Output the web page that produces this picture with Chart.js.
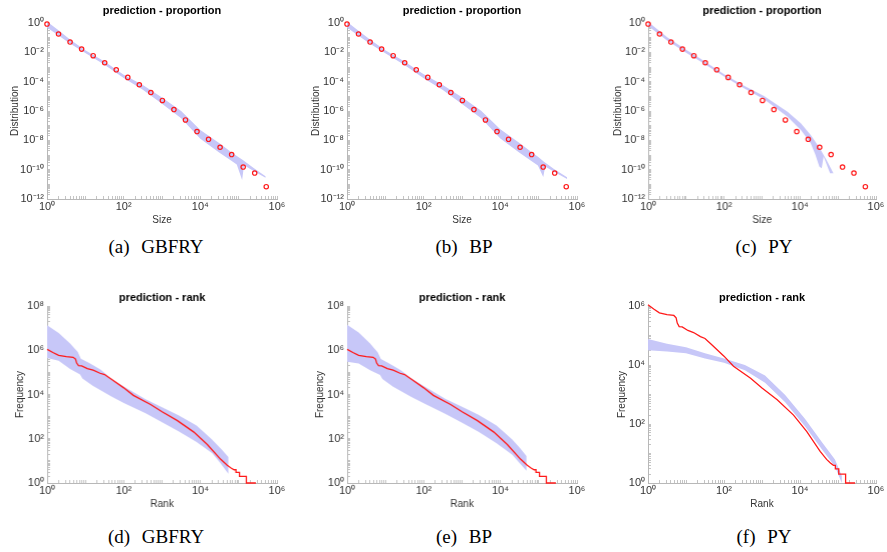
<!DOCTYPE html>
<html>
<head>
<meta charset="utf-8">
<script src="https://cdn.jsdelivr.net/npm/chart.js@4.4.0/dist/chart.umd.min.js"></script>
<style>
  body { margin: 0; background: #fff; width: 887px; height: 552px; position: relative; overflow: hidden; }
  canvas { position: absolute; }
  .cap { position: absolute; font-family: "Liberation Serif", "Times New Roman", serif; font-size: 19px; line-height: 20px;
         color: #000; transform: translateX(-50%); white-space: nowrap; word-spacing: 7px; }
</style>
</head>
<body>
<script>
// Data (log10 units)
const sizes = [1, 2, 4, 8, 16, 32, 64, 128, 256, 512, 1024, 2048, 4096, 8192, 16384, 32768, 65536, 131072, 262144, 524288];
const propLog10 = [-0.07, -0.75, -1.30, -1.78, -2.23, -2.71, -3.19, -3.71, -4.21, -4.74, -5.28, -5.90, -6.61, -7.40, -7.93, -8.47, -8.97, -9.82, -10.23, -11.16];

const rankLog10 = [0, 0.15, 0.3, 0.5, 0.68, 0.74, 0.77, 0.82, 0.9, 1.05, 1.2, 1.38, 1.5, 1.65, 2.0, 2.25, 2.7, 3.0, 3.4, 3.83, 4.18, 4.53, 4.7, 4.8, 4.88, 4.93, 4.93, 5.02, 5.02, 5.2, 5.2, 5.45];
const freqLog10 = [6.04, 5.9, 5.77, 5.71, 5.68, 5.6, 5.42, 5.3, 5.29, 5.17, 5.1, 4.96, 4.9, 4.72, 4.3, 3.96, 3.55, 3.22, 2.82, 2.3, 1.74, 1.07, 0.8, 0.68, 0.6, 0.6, 0.48, 0.48, 0.3, 0.3, 0, 0];

// predictive bands, outline polygons (upper edge then lower edge back)
const bandA_x = [0, 0.3, 0.6, 1.0, 1.5, 2.0, 2.5, 3.0, 3.5, 4.0, 4.5, 4.8, 5.0, 5.1, 5.4, 5.7, 5.7, 5.4, 5.14, 5.09, 4.95, 4.8, 4.5, 4.0, 3.5, 3.0, 2.5, 2.0, 1.5, 1.0, 0.6, 0.3, 0];
const bandA_y = [0.1, -0.5, -1.12, -1.85, -2.62, -3.52, -4.22, -5.08, -6.0, -7.3, -8.2, -8.8, -9.15, -9.33, -9.9, -10.45, -10.55, -10.1, -9.7, -10.7, -9.65, -9.38, -8.85, -7.9, -6.5, -5.5, -4.55, -3.75, -2.85, -2.05, -1.4, -0.85, -0.3];

const bandB_x = [0, 0.3, 0.6, 1.0, 1.5, 2.0, 2.5, 3.0, 3.5, 4.0, 4.5, 4.8, 5.0, 5.13, 5.4, 5.74, 5.74, 5.4, 5.17, 5.12, 4.98, 4.8, 4.5, 4.0, 3.5, 3.0, 2.5, 2.0, 1.5, 1.0, 0.6, 0.3, 0];
const bandB_y = [0.08, -0.52, -1.12, -1.86, -2.62, -3.5, -4.22, -5.06, -5.98, -7.25, -8.18, -8.78, -9.15, -9.45, -9.95, -10.52, -10.64, -10.15, -9.78, -10.5, -9.72, -9.4, -8.85, -7.88, -6.5, -5.52, -4.56, -3.76, -2.86, -2.06, -1.42, -0.87, -0.3];

const bandC_x = [0, 0.5, 1.0, 1.37, 2.0, 2.5, 3.05, 3.67, 4.02, 4.28, 4.5, 4.7, 4.88, 4.79, 4.62, 4.57, 4.51, 4.4, 4.28, 4.02, 3.67, 3.05, 2.5, 2.0, 1.37, 1.0, 0.5, 0];
const bandC_y = [0.08, -0.98, -1.82, -2.42, -3.5, -4.25, -4.98, -6.05, -6.84, -7.63, -8.45, -9.35, -10.25, -10.25, -9.11, -9.91, -9.8, -8.95, -8.2, -7.3, -6.39, -5.2, -4.42, -3.65, -2.6, -2.02, -1.2, -0.2];

const bandD_x = [0, 0.3, 0.6, 0.8, 0.88, 1.1, 1.4, 1.7, 2.0, 2.57, 3.0, 3.44, 3.9, 4.31, 4.55, 4.73, 4.73, 4.5, 4.31, 3.9, 3.44, 3.0, 2.57, 2.0, 1.69, 1.2, 0.92, 0.86, 0.6, 0.3, 0];
const bandD_y = [7.13, 6.78, 6.3, 5.92, 5.62, 5.42, 5.12, 4.68, 4.36, 3.78, 3.42, 3.05, 2.6, 1.95, 1.52, 1.18, 0.42, 0.95, 1.35, 1.85, 2.33, 2.75, 3.15, 3.62, 3.9, 4.38, 4.72, 4.9, 5.15, 5.52, 5.65];

const bandE_x = [0, 0.3, 0.6, 0.8, 0.88, 1.1, 1.4, 1.7, 2.0, 2.57, 3.0, 3.44, 3.9, 4.31, 4.5, 4.68, 4.68, 4.5, 4.31, 3.9, 3.44, 3.0, 2.57, 2.0, 1.69, 1.2, 0.92, 0.86, 0.6, 0.3, 0];
const bandE_y = [7.15, 6.8, 6.3, 5.9, 5.6, 5.4, 5.1, 4.7, 4.38, 3.8, 3.45, 3.07, 2.6, 1.97, 1.6, 1.22, 0.55, 0.9, 1.28, 1.8, 2.3, 2.72, 3.12, 3.6, 3.88, 4.35, 4.7, 4.88, 5.1, 5.4, 5.48];

const bandF_x = [0, 0.5, 1.0, 1.5, 2.0, 2.55, 3.08, 3.61, 4.13, 4.57, 4.92, 5.1, 5.1, 4.92, 4.57, 4.13, 3.61, 3.08, 2.55, 2.0, 1.5, 1.0, 0.5, 0];
const bandF_y = [4.88, 4.72, 4.6, 4.4, 4.22, 4.0, 3.64, 2.98, 2.18, 1.4, 0.8, 0.25, 0, 0.56, 1.15, 1.92, 2.74, 3.4, 3.82, 4.08, 4.22, 4.4, 4.46, 4.5];

// tick labels
const xTickVals = [1, 1e2, 1e4, 1e6];
const xTickLabels = ['10⁰', '10²', '10⁴', '10⁶'];
const propTickVals = [1e-12, 1e-10, 1e-8, 1e-6, 1e-4, 1e-2, 1];
const propTickLabels = ['10⁻¹²', '10⁻¹⁰', '10⁻⁸', '10⁻⁶', '10⁻⁴', '10⁻²', '10⁰'];
const freqTickVals = [1, 1e2, 1e4, 1e6, 1e8];
const freqTickLabels = ['10⁰', '10²', '10⁴', '10⁶', '10⁸'];

const captions = ['(a) GBFRY', '(b) BP', '(c) PY', '(d) GBFRY', '(e) BP', '(f) PY'];

// Helpers
const FONT = '"Liberation Sans", Arial, sans-serif';
const BAND = '#c7c7f8';
const RED = '#ff1a1a';

function pts(xs, ys, xLog) {
    return xs.map((x, i) => ({ x: xLog ? 10 ** x : x, y: 10 ** ys[i] }));
}

function logTicks(min, max) {
    const out = [];
    for (let d = Math.round(Math.log10(min)); d < Math.round(Math.log10(max)); d++) {
        for (let k = 1; k < 10; k++) out.push(k * 10 ** d);
    }
    out.push(max);
    return out;
}

function logAxis(pos, min, max, vals, labels, title, titlePad) {
    return {
        type: 'logarithmic', position: pos, min: min, max: max,
        afterBuildTicks: s => { s.ticks = logTicks(min, max).map(v => ({ value: v })); },
        afterFit: s => { if (pos === 'left') s.width = 45; else s.height = 30; },
        ticks: {
            autoSkip: false, maxRotation: 0, minRotation: 0,
            padding: pos === 'left' ? 6 : 4,
            color: '#333', font: { family: FONT, size: 11 },
            callback: v => {
                const i = vals.findIndex(t => Math.abs(Math.log10(t) - Math.log10(v)) < 1e-6);
                return i >= 0 ? labels[i] : '';
            }
        },
        grid: { drawOnChartArea: false, drawTicks: true, tickLength: -3, color: '#c4c4c4' },
        border: { display: true, color: '#b8b8b8', width: 1 },
        title: { display: true, text: title, color: '#333', font: { family: FONT, size: 10 }, padding: titlePad }
    };
}

function makePanel(p) {
    const L = p.left - 45, T = p.top - 24;
    const W = p.right + 15 - L, H = p.bottom + 30 - T;
    const c = document.createElement('canvas');
    c.width = W; c.height = H;
    c.style.left = L + 'px'; c.style.top = T + 'px';
    c.style.width = W + 'px'; c.style.height = H + 'px';
    document.body.appendChild(c);

    const top = p.kind === 'prop';
    const datasets = [];
    if (top) {
        datasets.push({
            data: pts(sizes, propLog10, false), showLine: false, pointRadius: 2.2, pointBorderWidth: 1.2,
            pointBorderColor: RED, pointBackgroundColor: 'rgba(0,0,0,0)', clip: false
        });
    } else {
        datasets.push({
            data: pts(rankLog10, freqLog10, true), borderColor: RED, borderWidth: 1.3,
            pointRadius: 0, fill: false, tension: 0, clip: 3
        });
    }
    datasets.push({
        data: pts(p.bx, p.by, true), showLine: true, fill: 'shape', backgroundColor: BAND,
        borderWidth: 0, pointRadius: 0, tension: 0
    });

    const tp = top ? 5.4 : 9.1;
    new Chart(c, {
        type: 'line',
        data: { datasets: datasets },
        options: {
            responsive: false, animation: false, events: [],
            layout: { padding: { left: 0, top: 0, right: 15, bottom: 0 }, autoPadding: false },
            plugins: {
                legend: { display: false }, tooltip: { enabled: false },
                title: {
                    display: true, fullSize: false, text: top ? 'prediction - proportion' : 'prediction - rank',
                    color: '#000', font: { family: FONT, size: 11, weight: 'bold' },
                    padding: { top: tp, bottom: 24 - 13.2 - tp }
                }
            },
            scales: {
                x: logAxis('bottom', 1, 1e6, xTickVals, xTickLabels, top ? 'Size' : 'Rank', { top: 0, bottom: top ? 3 : 2.3 }),
                y: top
                    ? logAxis('left', 1e-12, 1, propTickVals, propTickLabels, 'Distribution', { top: 39 - p.yOff, bottom: 0 })
                    : logAxis('left', 1, p.yMax, freqTickVals, freqTickLabels, 'Frequency', { top: 39 - p.yOff, bottom: 0 })
            }
        }
    });

    const cap = document.createElement('div');
    cap.className = 'cap';
    cap.textContent = p.caption;
    cap.style.left = p.capX + 'px';
    cap.style.top = (top ? 237 : 526.5) + 'px';
    document.body.appendChild(cap);
}

const panels = [
    { kind: 'prop', left: 47, right: 277, top: 23, bottom: 199, bx: bandA_x, by: bandA_y, yOff: 32, capX: 156, caption: captions[0] },
    { kind: 'prop', left: 347, right: 577, top: 23, bottom: 199, bx: bandB_x, by: bandB_y, yOff: 31, capX: 464, caption: captions[1] },
    { kind: 'prop', left: 648, right: 875.5, top: 23, bottom: 199, bx: bandC_x, by: bandC_y, yOff: 29.7, capX: 764, caption: captions[2] },
    { kind: 'rank', left: 47, right: 276.5, top: 306, bottom: 483.3, yMax: 1e8, bx: bandD_x, by: bandD_y, yOff: 26.3, capX: 156, caption: captions[3] },
    { kind: 'rank', left: 347, right: 576.5, top: 306, bottom: 483.3, yMax: 1e8, bx: bandE_x, by: bandE_y, yOff: 26.3, capX: 464, caption: captions[4] },
    { kind: 'rank', left: 648, right: 876, top: 306, bottom: 483.3, yMax: 1e6, bx: bandF_x, by: bandF_y, yOff: 25.7, capX: 764, caption: captions[5] }
];

panels.forEach(makePanel);
</script>
</body>
</html>
